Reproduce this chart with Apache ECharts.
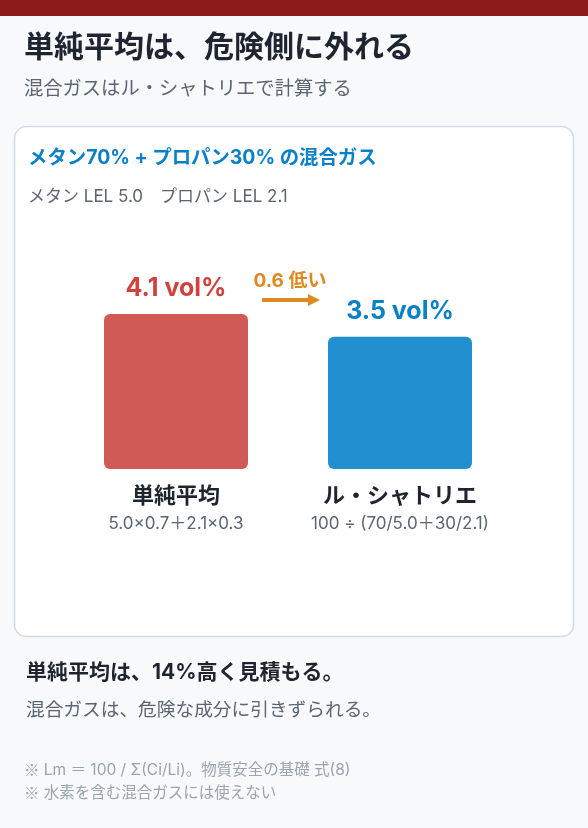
<!DOCTYPE html>
<html><head><meta charset="utf-8">
<script src="https://cdn.jsdelivr.net/npm/echarts@6/dist/echarts.min.js"></script>
<style>html,body{margin:0;padding:0;background:#F7F9FB}#c{width:588px;height:828px}</style>
</head><body><div id="c"></div>
<script>
const categories = ['単純平均', 'ル・シャトリエ'];
const formulas = ['5.0×0.7＋2.1×0.3', '100 ÷ (70/5.0＋30/2.1)'];
const values = [4.1, 3.5];
const barColors = ['#D05A55', '#2290D0'];
const labelColors = ['#D0423D', '#0A80C8'];
const unit = ' vol%';
const notes = ['Lm ＝ 100 / Σ(Ci/Li)。物質安全の基礎 式(8)', '水素を含む混合ガスには使えない'];
const diff = (values[0] - values[1]).toFixed(1);

const F = 'Inter,"Noto Sans CJK JP","Noto Sans",sans-serif';
const FJ = '"Noto Sans CJK JP",sans-serif';
const chart = echarts.init(document.getElementById('c'), null, {renderer: 'canvas'});
const noteRich = {
  k: {fontFamily: FJ, fontSize: 15.5, fill: '#9AA4AE'},
  t: {fontFamily: F, fontSize: 15.5, fill: '#9AA4AE'}
};
chart.setOption({
  backgroundColor: '#F7F9FB',
  animation: false,
  grid: {left: 64, right: 76, top: 280, bottom: 359},
  xAxis: {
    type: 'category', data: categories,
    axisLine: {show: false}, axisTick: {show: false},
    axisLabel: {
      margin: 13,
      formatter: (v, i) => '{a|' + v + '}\n{b|' + formulas[i] + '}',
      rich: {
        a: {fontFamily: F, fontSize: 22, fontWeight: 'bold', color: '#1E2530', lineHeight: 28},
        b: {fontFamily: F, fontSize: 17, color: '#5B6573', lineHeight: 28}
      }
    }
  },
  yAxis: {type: 'value', min: 0, max: 5, show: false, splitLine: {show: false}},
  series: [{
    type: 'bar', barWidth: 144, z: 5,
    data: values.map((v, i) => ({
      value: v,
      itemStyle: {color: barColors[i], borderRadius: 6},
      label: {color: labelColors[i]}
    })),
    label: {
      show: true, position: 'top', distance: 13,
      fontFamily: F, fontSize: 25, fontWeight: 'bold',
      formatter: p => p.value.toFixed(1) + unit
    }
  }],
  graphic: [
    {type: 'rect', shape: {x: 0, y: 0, width: 588, height: 16}, style: {fill: '#8B1A18'}, z: 0},
    {type: 'text', left: 24, top: 33, style: {text: '単純平均は、危険側に外れる', fontFamily: F, fontSize: 30, fontWeight: 'bold', fill: '#1E2530'}},
    {type: 'text', left: 24, top: 80, style: {text: '混合ガスはル・シャトリエで計算する', fontFamily: F, fontSize: 19.3, fill: '#5B6573'}},
    {type: 'rect', shape: {x: 14.5, y: 126.5, width: 559, height: 510, r: 12}, style: {fill: '#FFFFFF', stroke: '#D2DCE5', lineWidth: 1.6}, z: -1},
    {type: 'text', left: 28, top: 148, style: {text: 'メタン70% + プロパン30% の混合ガス', fontFamily: F, fontSize: 19.4, fontWeight: 'bold', fill: '#0A80C8'}},
    {type: 'text', left: 28, top: 188, style: {text: 'メタン LEL 5.0　プロパン LEL 2.1', fontFamily: F, fontSize: 17, fill: '#5B6573'}},
    {type: 'text', x: 290, y: 281, style: {text: diff + ' 低い', fontFamily: F, fontSize: 19, fontWeight: 'bold', fill: '#DE8A22', align: 'center', verticalAlign: 'middle'}},
    {type: 'line', shape: {x1: 262, y1: 300, x2: 310, y2: 300}, style: {stroke: '#DE8A22', lineWidth: 4}},
    {type: 'polygon', shape: {points: [[308, 294], [320, 300], [308, 306]]}, style: {fill: '#DE8A22'}},
    {type: 'text', left: 26, top: 662, style: {text: '単純平均は、14%高く見積もる。', fontFamily: F, fontSize: 21, fontWeight: 'bold', fill: '#1E2530'}},
    {type: 'text', left: 26, top: 701, style: {text: '混合ガスは、危険な成分に引きずられる。', fontFamily: F, fontSize: 18.7, fill: '#5B6573'}},
    {type: 'text', left: 24, top: 762, style: {text: '{k|※} {t|' + notes[0] + '}', rich: noteRich, fill: '#9AA4AE', fontSize: 15.5}},
    {type: 'text', left: 24, top: 785, style: {text: '{k|※} {t|' + notes[1] + '}', rich: noteRich, fill: '#9AA4AE', fontSize: 15.5}}
  ]
});
</script></body></html>
